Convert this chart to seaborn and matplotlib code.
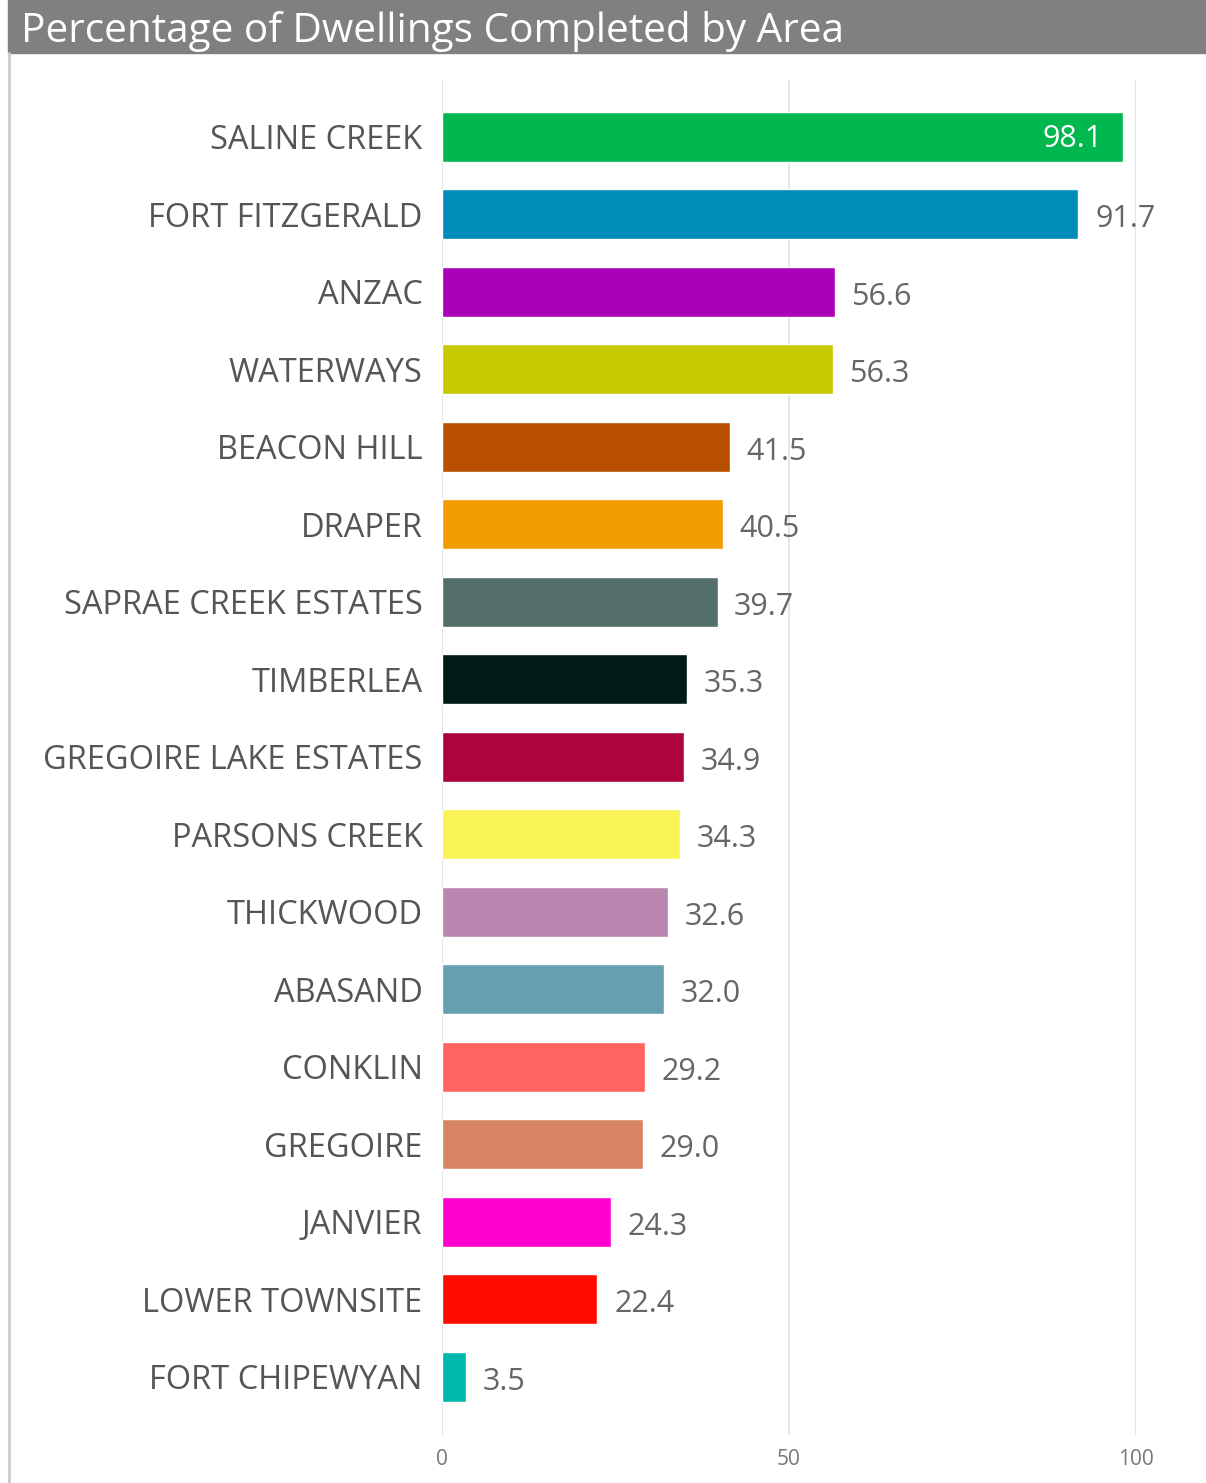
import numpy as np
import pandas as pd
import matplotlib
matplotlib.use('Agg')
import matplotlib.pyplot as plt
from matplotlib.patches import Rectangle
from matplotlib.lines import Line2D
import seaborn as sns

areas = ["SALINE CREEK", "FORT FITZGERALD", "ANZAC", "WATERWAYS", "BEACON HILL",
         "DRAPER", "SAPRAE CREEK ESTATES", "TIMBERLEA", "GREGOIRE LAKE ESTATES",
         "PARSONS CREEK", "THICKWOOD", "ABASAND", "CONKLIN", "GREGOIRE",
         "JANVIER", "LOWER TOWNSITE", "FORT CHIPEWYAN"]
pct = [98.1, 91.7, 56.6, 56.3, 41.5, 40.5, 39.7, 35.3, 34.9, 34.3, 32.6, 32.0,
       29.2, 29.0, 24.3, 22.4, 3.5]
colors = ["#01B84F", "#008DB9", "#AA00B6", "#C8C800", "#B84F00", "#F39C00",
          "#546E6A", "#001A17", "#AE043B", "#FAF356", "#B886AE", "#669FB0",
          "#FF6461", "#D68463", "#FF00CF", "#FF0D00", "#00B9AE"]
xticks = [0, 50, 100]

df = pd.DataFrame({"area": areas, "pct": pct})

sns.set_style("white")
plt.rcParams['font.family'] = ['Open Sans', 'DejaVu Sans']

fig = plt.figure(figsize=(12.06, 14.83), dpi=100)
ax = fig.add_axes([442 / 1206, 1 - 1435 / 1483, (1136 - 442) / 1206, (1435 - 80) / 1483])

sns.barplot(data=df, x="pct", y="area", hue="area", palette=dict(zip(areas, colors)),
            orient="h", width=0.645, legend=False, saturation=1, ax=ax)

ax.set_xlim(0, 100)
ax.set_ylim(16.75, -0.735)
ax.set_xticks(xticks)
ax.set_xticklabels([str(t) for t in xticks], color="#777777", fontsize=15)
ax.tick_params(axis="x", length=0, pad=10)
ax.tick_params(axis="y", length=0, pad=14)
for lab in ax.get_yticklabels():
    lab.set_fontsize(23.5)
    lab.set_color("#555555")
ax.set_xlabel("")
ax.set_ylabel("")
ax.grid(axis="x", color="#e6e6e6", linewidth=1.5)
ax.set_axisbelow(True)
for s in ax.spines.values():
    s.set_visible(False)

for i, v in enumerate(pct):
    if i == 0:
        ax.text(v - 2.9, i + 0.03, f"{v:.1f}", color="white", fontsize=22,
                ha="right", va="center")
    else:
        ax.text(v + 2.4, i + 0.06, f"{v:.1f}", color="#666666", fontsize=22,
                ha="left", va="center", clip_on=False)

# title bar and left border
fig.patches.append(Rectangle((8 / 1206, 1 - 53 / 1483), 1 - 8 / 1206, 53 / 1483,
                             transform=fig.transFigure, color="#808080", zorder=0))
fig.lines.append(Line2D([9 / 1206, 9 / 1206], [0, 1 - 53 / 1483], transform=fig.transFigure,
                        color="#cccccc", linewidth=2))
fig.text(21 / 1206, 1 - 31 / 1483, "Percentage of Dwellings Completed by Area",
         color="white", fontsize=29.2, va="center", ha="left")

fig.savefig("out.png", dpi=100)
